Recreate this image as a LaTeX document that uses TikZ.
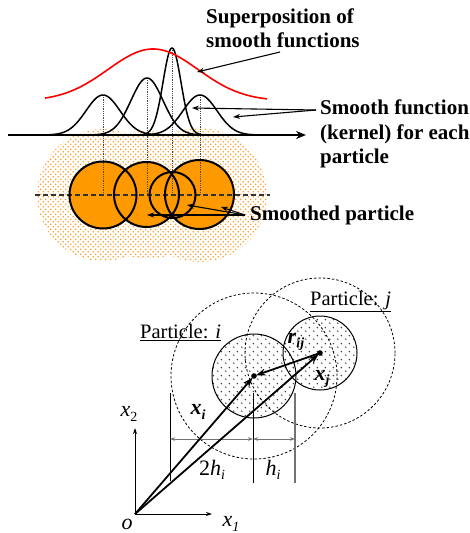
\documentclass[tikz,border=0pt]{standalone}
\usepackage{fontspec}
\setmainfont{Liberation Serif}
\usetikzlibrary{arrows.meta,patterns.meta}
\definecolor{partorange}{RGB}{255,153,0}
\definecolor{dotorange}{RGB}{250,160,40}
\tikzdeclarepattern{name=odots, type=uncolored,
  bounding box={(0pt,0pt) and (5.4pt,5.4pt)}, tile size={(5.4pt,5.4pt)},
  code={\fill (1.35pt,1.35pt) circle (0.95pt); \fill (4.05pt,4.05pt) circle (0.95pt);}}
\tikzdeclarepattern{name=gdots, type=uncolored,
  bounding box={(0pt,0pt) and (8pt,8pt)}, tile size={(8pt,8pt)},
  code={\fill (2pt,2pt) circle (0.9pt); \fill (6pt,6pt) circle (0.9pt);}}
\newcommand\sbx[1]{\raisebox{-0.45ex}{\fontsize{14}{14}\selectfont #1}}
\begin{document}
\begin{tikzpicture}[x=1pt,y=-1pt,
  kern/.style={line width=1.5pt},
  lab/.style={font=\fontsize{21}{24.5}\selectfont\bfseries, inner sep=0pt, align=left, anchor=west},
  txt/.style={font=\fontsize{20.5}{24}\selectfont, inner sep=0pt},
  mth/.style={font=\fontsize{22}{24}\selectfont, inner sep=0pt},
  ptr/.style={line width=1.1pt,-{Stealth[length=7pt,width=5pt]}},
  vec/.style={line width=1.8pt,-{Stealth[length=10pt,width=7pt]},shorten >=2pt},
  peakline/.style={densely dotted, line width=0.8pt, black!70},
  bigcirc/.style={dash pattern=on 2.5pt off 2pt, line width=0.8pt},
  dimline/.style={black!55, line width=1pt,{Stealth[length=5pt,width=3.5pt]}-{Stealth[length=5pt,width=3.5pt]}}]
\useasboundingbox (0,0) rectangle (470,533);

% ---------- upper part: kernels and smoothed particles ----------
\fill[pattern=odots, pattern color=dotorange]
  (103,195) circle (66pt) (147,195) circle (64pt) (200,195) circle (67pt);

\coordinate (c1) at (103,195); \coordinate (c2) at (146.5,194.5);
\coordinate (c3) at (172.5,195); \coordinate (c4) at (199.5,194.5);
\fill[partorange] (c1) circle (33.5pt) (c2) circle (32.5pt) (c3) circle (23pt) (c4) circle (34.5pt);

\coordinate (p1) at (103,95); \coordinate (p2) at (147,78);
\coordinate (p3) at (172,48); \coordinate (p4) at (200,95);
\draw[peakline] (p1) -- (103,195);
\draw[peakline] (p2) -- (147,195);
\draw[peakline] (p3) -- (172,195);
\draw[peakline] (p4) -- (200,195);

\coordinate (dl) at (35,195); \coordinate (dr) at (270,195);
\draw[line width=1.1pt, black!80, dash pattern=on 5pt off 3pt] (dl) -- (dr);

\draw[line width=2pt] (c1) circle (33.5pt) (c2) circle (32.5pt) (c3) circle (23pt) (c4) circle (34.5pt);

\draw[kern] plot[domain=40:166,samples=90,smooth] (\x,{135-40*exp(-((\x-103)*(\x-103))/578)});
\draw[kern] plot[domain=92:202,samples=90,smooth] (\x,{135-57*exp(-((\x-147)*(\x-147))/512)});
\draw[kern] plot[domain=138:206,samples=90,smooth] (\x,{135-87*exp(-((\x-172)*(\x-172))/162)});
\draw[kern] plot[domain=137:263,samples=90,smooth] (\x,{135-40*exp(-((\x-200)*(\x-200))/578)});
\draw[red, line width=1.6pt] plot[domain=45:267,samples=110,smooth] (\x,{101-52*exp(-((\x-153)*(\x-153))/4050)});

\coordinate (axl) at (8,135); \coordinate (axr) at (306,135);
\draw[line width=2pt, -{Stealth[length=10pt,width=8pt]}] (axl) -- (axr);

\node[lab] (sup) at (206,28) {Superposition of\\smooth functions};
\coordinate (supA) at (280,52); \coordinate (supB) at (197,72);
\draw[ptr] (supA) -- (supB);

\node[lab] (smf) at (320,134) {Smooth function\\(kernel) for each\\particle};
\coordinate (smfA) at (316,110);
\coordinate (k3p) at (192,108); \coordinate (k4p) at (233,117);
\draw[ptr] (smfA) -- (k3p);
\draw[ptr] (smfA) -- (k4p);

\node[lab] (smp) at (250,215) {Smoothed particle};
\coordinate (smpA) at (245,215);
\coordinate (sp2) at (147,215); \coordinate (sp3) at (187,205); \coordinate (sp4) at (221,207);
\draw[ptr] (smpA) -- (sp2);
\draw[ptr] (smpA) -- (sp3);
\draw[ptr] (smpA) -- (sp4);

% ---------- lower part: particle pair ----------
\coordinate (O) at (135,514);
\coordinate (xi) at (254,376);
\coordinate (xj) at (320,353);

\fill[pattern=gdots, pattern color=black!75] (xi) circle (42pt);
\fill[pattern=gdots, pattern color=black!75] (xj) circle (37pt);
\draw[line width=1pt] (xi) circle (42pt);
\draw[line width=1pt] (xj) circle (37pt);
\draw[bigcirc] (xi) circle (83pt);
\draw[bigcirc] (xj) circle (75pt);

\node[txt, anchor=west] (pi) at (140,333) {\underline{Particle: \textit{i}}};
\node[txt, anchor=west] (pj) at (310,302) {\underline{Particle: \textit{j}}};

% dimension lines
\coordinate (v1t) at (170,393); \coordinate (v1b) at (170,481);
\coordinate (v2t) at (253,393); \coordinate (v2b) at (253,483);
\coordinate (v3t) at (295,393); \coordinate (v3b) at (295,483);
\draw[line width=1pt] (v1t) -- (v1b);
\draw[line width=1pt] (v2t) -- (v2b);
\draw[black!55, line width=1.2pt] (v3t) -- (v3b);
\coordinate (d1) at (170,439); \coordinate (d2) at (253,439); \coordinate (d3) at (295,439);
\draw[dimline] (d1) -- (d2);
\draw[dimline] (d2) -- (d3);

% axes
\coordinate (x2e) at (135,428); \coordinate (x1e) at (212,514);
\draw[line width=0.9pt,-{Stealth[length=6pt,width=4pt]}] (O) -- (x2e);
\draw[line width=0.9pt,-{Stealth[length=6pt,width=4pt]}] (O) -- (x1e);

% vectors
\draw[vec] (O) -- (xi);
\draw[vec] (O) -- (xj);
\draw[vec] (xj) -- (xi);
\fill (xi) circle (2.8pt);
\fill (xj) circle (2.8pt);

% labels
\node[mth] (lx2) at (129,414) {\textit{x}\sbx{2}};
\node[mth] (lx1) at (231,524) {\textit{x}\sbx{\textit{1}}};
\node[mth] (lo) at (127,524) {\textit{o}};
\node[mth] (lxi) at (198,412) {\textbf{\textit{x}}\sbx{\textbf{\textit{i}}}};
\node[mth] (lxj) at (322,379) {\textbf{\textit{x}}\sbx{\textbf{\textit{j}}}};
\node[mth] (lrij) at (296,342) {\textbf{\textit{r}}\sbx{\textbf{\textit{ij}}}};
\node[mth] (l2h) at (212,470) {2\textit{h}\sbx{\textit{i}}};
\node[mth] (lh) at (273,470) {\textit{h}\sbx{\textit{i}}};
\end{tikzpicture}
\end{document}
